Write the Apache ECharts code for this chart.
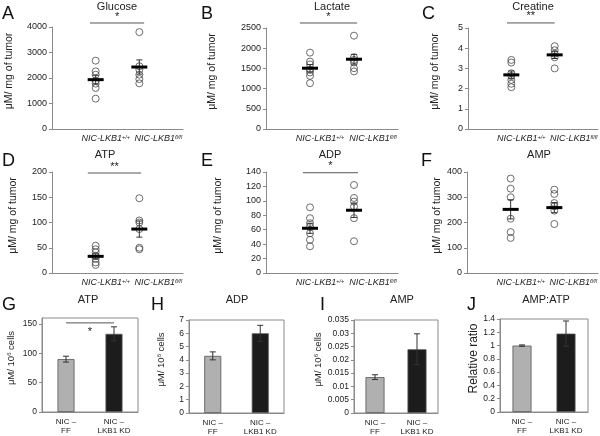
<!DOCTYPE html>
<html><head><meta charset="utf-8">
<script src="https://cdn.jsdelivr.net/npm/echarts@6/dist/echarts.min.js"></script>
<style>html,body{margin:0;padding:0;background:#fff}#c{width:600px;height:436px}</style>
</head><body><div id="c"></div>
<script>
// ---------- data ----------
const groupLabels = ['NIC-LKB1', '+/+', 'fl/fl'];
// A Glucose
const glucoseWT = [2680, 2260, 2130, 1895, 1780, 1610, 1190];
const glucoseFL = [3800, 2460, 2330, 2130, 1960, 1790];
const glucoseMean = [1935, 2430];
const glucoseSem = [170, 280];
// B Lactate
const lactateWT = [1890, 1670, 1600, 1465, 1400, 1315, 1135];
const lactateFL = [2310, 1775, 1710, 1645, 1505, 1425];
const lactateMean = [1505, 1727];
const lactateSem = [90, 120];
// C Creatine
const creatineWT = [3.42, 3.29, 2.76, 2.63, 2.43, 2.24, 2.07];
const creatineFL = [4.1, 3.9, 3.72, 3.55, 3.0];
const creatineMean = [2.68, 3.67];
const creatineSem = [0.19, 0.18];
// D ATP
const atpWT = [54, 47, 41, 34, 28, 21, 16];
const atpFL = [148, 104, 100, 87, 50, 47];
const atpMean = [33, 87];
const atpSem = [5, 16];
// E ADP
const adpWT = [91, 76, 69, 64, 55, 46, 37];
const adpFL = [122, 104, 99, 92, 76, 44];
const adpMean = [62, 87];
const adpSem = [7, 10];
// F AMP
const ampWT = [374, 334, 300, 215, 162, 139];
const ampFL = [330, 313, 277, 264, 247, 194];
const ampMean = [252, 259];
const ampSem = [38, 20];
// G-J cell lines
const cellCats = ['NIC \u2013\nFF', 'NIC \u2013\nLKB1 KD'];
const cellATP = [90, 133];      const cellATPErr = [5, 12];
const cellADP = [4.3, 6.0];     const cellADPErr = [0.3, 0.6];
const cellAMP = [0.0135, 0.024]; const cellAMPErr = [0.0009, 0.0058];
const cellRatio = [1.0, 1.18];  const cellRatioErr = [0.01, 0.19];
// significance annotations: [x1, x2, y, text, side]
const sigA = [0.87, 2.11, 4157, '*', 'above'];
const sigB = [0.77, 2.07, 2624, '*', 'above'];
const sigC = [0.90, 2.00, 5.25, '**', 'above'];
const sigD = [0.82, 2.04, 198, '**', 'above'];
const sigE = [0.84, 2.09, 139, '*', 'above'];
const sigG = [0.45, 1.05, 151.7, '*', 'below'];
// titles / letters
const panelTitles = ['Glucose', 'Lactate', 'Creatine', 'ATP', 'ADP', 'AMP', 'ATP', 'ADP', 'AMP', 'AMP:ATP'];
const panelLetters = ['A', 'B', 'C', 'D', 'E', 'F', 'G', 'H', 'I', 'J'];
const yNameTumor = '\u03bcM/ mg of tumor';

// ---------- layout ----------
const FONT = '"Liberation Sans", Arial, sans-serif';
const AX = '#8a8a8a', TXT = '#222';
const grids = [
  {left: 52, top: 27, width: 131, height: 102},
  {left: 266, top: 28, width: 132, height: 101},
  {left: 468, top: 28, width: 130, height: 101},
  {left: 52, top: 172, width: 131, height: 101},
  {left: 266, top: 172, width: 132, height: 101},
  {left: 467, top: 172, width: 131, height: 101},
  {left: 42, top: 318, width: 96, height: 94},
  {left: 189, top: 320, width: 95, height: 93},
  {left: 354, top: 320, width: 84, height: 93},
  {left: 500, top: 319, width: 88, height: 93}
].map((g, i) => Object.assign({outerBoundsMode: 'none', containLabel: false,
   show: i >= 6, borderColor: AX, borderWidth: 1, backgroundColor: 'transparent'}, g));

const titlePos = [[117,7],[332,7],[533,7],[105,155],[330,155],[539,155],[88,300],[237,300],[402,300],[546,300]];
const letterPos = [[2,5],[201,5],[422,5],[2,152],[201,152],[421,152],[2,296],[151,296],[320,296],[467,296]];

const scatterPanels = [
  {wt: glucoseWT, fl: glucoseFL, mean: glucoseMean, sem: glucoseSem, max: 4000, interval: 1000, gap: 37, sig: sigA},
  {wt: lactateWT, fl: lactateFL, mean: lactateMean, sem: lactateSem, max: 2500, interval: 500, gap: 48, sig: sigB},
  {wt: creatineWT, fl: creatineFL, mean: creatineMean, sem: creatineSem, max: 5, interval: 1, gap: 27, sig: sigC},
  {wt: atpWT, fl: atpFL, mean: atpMean, sem: atpSem, max: 200, interval: 50, gap: 33, sig: sigD},
  {wt: adpWT, fl: adpFL, mean: adpMean, sem: adpSem, max: 140, interval: 20, gap: 42, sig: sigE},
  {wt: ampWT, fl: ampFL, mean: ampMean, sem: ampSem, max: 400, interval: 100, gap: 24, sig: null}
];
const barPanels = [
  {vals: cellATP, err: cellATPErr, max: 160, interval: 50, gap: 26, name: 'cells', fmt: v => String(v), sig: sigG},
  {vals: cellADP, err: cellADPErr, max: 7, interval: 1, gap: 23, name: 'cells', fmt: v => String(v), sig: null},
  {vals: cellAMP, err: cellAMPErr, max: 0.035, interval: 0.005, gap: 23, name: 'cells', fmt: v => String(+v.toFixed(3)), sig: null},
  {vals: cellRatio, err: cellRatioErr, max: 1.4, interval: 0.2, gap: 20, name: 'ratio', fmt: v => String(+v.toFixed(1)), sig: null}
];

const xAxes = [], yAxes = [], series = [];

function sigSeries(idx, sig) {
  return {
    type: 'custom', xAxisIndex: idx, yAxisIndex: idx, clip: false, silent: true, z: 5,
    data: [sig],
    renderItem: function (params, api) {
      const a = api.coord([api.value(0), api.value(2)]);
      const b = api.coord([api.value(1), api.value(2)]);
      const below = sig[4] === 'below';
      return {type: 'group', children: [
        {type: 'line', shape: {x1: a[0], y1: a[1], x2: b[0], y2: b[1]}, style: {stroke: '#555', lineWidth: 1}},
        {type: 'text', x: (a[0] + b[0]) / 2, y: below ? a[1] + 4 : a[1] - 1,
         style: {text: sig[3], font: '11px ' + FONT, fill: TXT, textAlign: 'center', textVerticalAlign: below ? 'top' : 'bottom'}}
      ]};
    }
  };
}

scatterPanels.forEach((p, i) => {
  xAxes.push({
    type: 'value', gridIndex: i, min: 0, max: 3, interval: 1,
    axisLine: {lineStyle: {color: AX}}, axisTick: {show: false}, splitLine: {show: false},
    axisLabel: {
      margin: 5, color: TXT, fontFamily: FONT, fontSize: 9, fontStyle: 'italic',
      showMinLabel: true, showMaxLabel: true,
      formatter: v => v === 1 ? '{a|' + groupLabels[0] + '}{s|' + groupLabels[1] + '}' :
                     v === 2 ? '{b|' + groupLabels[0] + '}{s|' + groupLabels[2] + '}' : '',
      rich: {
        a: {fontSize: 9, fontStyle: 'italic', color: TXT, fontFamily: FONT, padding: [0, 0, 0, 20]},
        b: {fontSize: 9, fontStyle: 'italic', color: TXT, fontFamily: FONT, padding: [0, 0, 0, 38]},
        s: {fontSize: 5.5, fontStyle: 'italic', color: TXT, fontFamily: FONT, verticalAlign: 'top'}
      }
    }
  });
  yAxes.push({
    type: 'value', gridIndex: i, min: 0, max: p.max, interval: p.interval,
    name: yNameTumor, nameLocation: 'middle', nameGap: p.gap,
    nameTextStyle: {fontFamily: FONT, fontSize: 10.5, color: TXT, padding: [0, 0, 0, 14]},
    axisLine: {show: true, lineStyle: {color: AX}},
    axisTick: {show: true, length: 3, lineStyle: {color: AX}},
    splitLine: {show: false},
    axisLabel: {margin: 5, color: TXT, fontFamily: FONT, fontSize: 9, formatter: v => String(v)}
  });
  series.push({
    type: 'scatter', xAxisIndex: i, yAxisIndex: i, symbol: 'circle', symbolSize: 7,
    itemStyle: {color: 'rgba(0,0,0,0)', borderColor: '#4a4a4a', borderWidth: 1},
    data: p.wt.map(v => [1, v]).concat(p.fl.map(v => [2, v])), z: 3
  });
  series.push({
    type: 'custom', xAxisIndex: i, yAxisIndex: i, z: 4, silent: true,
    data: p.mean.map((m, k) => [k + 1, m, p.sem[k]]),
    renderItem: function (params, api) {
      const x = api.value(0), m = api.value(1), s = api.value(2);
      const c = api.coord([x, m]), t = api.coord([x, m + s]), b = api.coord([x, m - s]);
      return {type: 'group', children: [
        {type: 'line', shape: {x1: c[0], y1: t[1], x2: c[0], y2: b[1]}, style: {stroke: '#333', lineWidth: 1}},
        {type: 'line', shape: {x1: c[0] - 3, y1: t[1], x2: c[0] + 3, y2: t[1]}, style: {stroke: '#333', lineWidth: 1}},
        {type: 'line', shape: {x1: c[0] - 3, y1: b[1], x2: c[0] + 3, y2: b[1]}, style: {stroke: '#333', lineWidth: 1}},
        {type: 'line', shape: {x1: c[0] - 8, y1: c[1], x2: c[0] + 8, y2: c[1]}, style: {stroke: '#000', lineWidth: 3}}
      ]};
    }
  });
  if (p.sig) series.push(sigSeries(i, p.sig));
});

barPanels.forEach((p, j) => {
  const i = j + 6;
  xAxes.push({
    type: 'category', gridIndex: i, data: cellCats,
    axisLine: {lineStyle: {color: AX}}, axisTick: {show: false},
    axisLabel: {margin: 5, color: TXT, fontFamily: FONT, fontSize: 8, lineHeight: 9, interval: 0}
  });
  const nameText = p.name === 'cells' ? '{a|\u03bcM/ 10}{s|6}{a| cells}' : 'Relative ratio';
  yAxes.push({
    type: 'value', gridIndex: i, min: 0, max: p.max, interval: p.interval,
    name: nameText, nameLocation: 'middle', nameGap: p.gap,
    nameTextStyle: {fontFamily: FONT, fontSize: p.name === 'cells' ? 9.5 : 12, color: TXT, padding: [0, 0, 0, 14],
      rich: {a: {fontFamily: FONT, fontSize: 9.5, color: TXT}, s: {fontFamily: FONT, fontSize: 6, color: TXT, verticalAlign: 'top'}}},
    axisLine: {show: true, lineStyle: {color: AX}},
    axisTick: {show: true, length: 3, lineStyle: {color: AX}},
    splitLine: {show: false},
    axisLabel: {margin: 5, color: TXT, fontFamily: FONT, fontSize: 8.5,
      showMaxLabel: Math.abs(p.max / p.interval - Math.round(p.max / p.interval)) < 1e-6, formatter: p.fmt}
  });
  series.push({
    type: 'bar', xAxisIndex: i, yAxisIndex: i, barWidth: j < 2 ? 17 : 19,
    data: p.vals.map((v, k) => ({value: v, itemStyle: {color: k === 0 ? '#b0b0b0' : '#1c1c1c'}})),
    itemStyle: {borderColor: '#555', borderWidth: 0.8}, z: 2
  });
  series.push({
    type: 'custom', xAxisIndex: i, yAxisIndex: i, z: 4, silent: true,
    data: p.vals.map((v, k) => [k, v, p.err[k]]),
    renderItem: function (params, api) {
      const x = api.value(0), m = api.value(1), s = api.value(2);
      const c = api.coord([x, m]), t = api.coord([x, m + s]), b = api.coord([x, m - s]);
      return {type: 'group', children: [
        {type: 'line', shape: {x1: c[0], y1: t[1], x2: c[0], y2: b[1]}, style: {stroke: '#333', lineWidth: 1}},
        {type: 'line', shape: {x1: c[0] - 3, y1: t[1], x2: c[0] + 3, y2: t[1]}, style: {stroke: '#333', lineWidth: 1}},
        {type: 'line', shape: {x1: c[0] - 3, y1: b[1], x2: c[0] + 3, y2: b[1]}, style: {stroke: '#333', lineWidth: 1}}
      ]};
    }
  });
  if (p.sig) series.push(sigSeries(i, p.sig));
});

const graphics = [];
panelTitles.forEach((t, i) => graphics.push({type: 'text', x: titlePos[i][0], y: titlePos[i][1],
  style: {text: t, font: '11px ' + FONT, fill: TXT, textAlign: 'center', textVerticalAlign: 'middle'}}));
panelLetters.forEach((t, i) => graphics.push({type: 'text', x: letterPos[i][0], y: letterPos[i][1],
  style: {text: t, font: '18px ' + FONT, fill: '#111', textAlign: 'left', textVerticalAlign: 'top'}}));

const chart = echarts.init(document.getElementById('c'), null, {renderer: 'canvas'});
chart.setOption({
  animation: false,
  backgroundColor: '#fff',
  grid: grids, xAxis: xAxes, yAxis: yAxes, series: series, graphic: graphics
});
</script></body></html>
